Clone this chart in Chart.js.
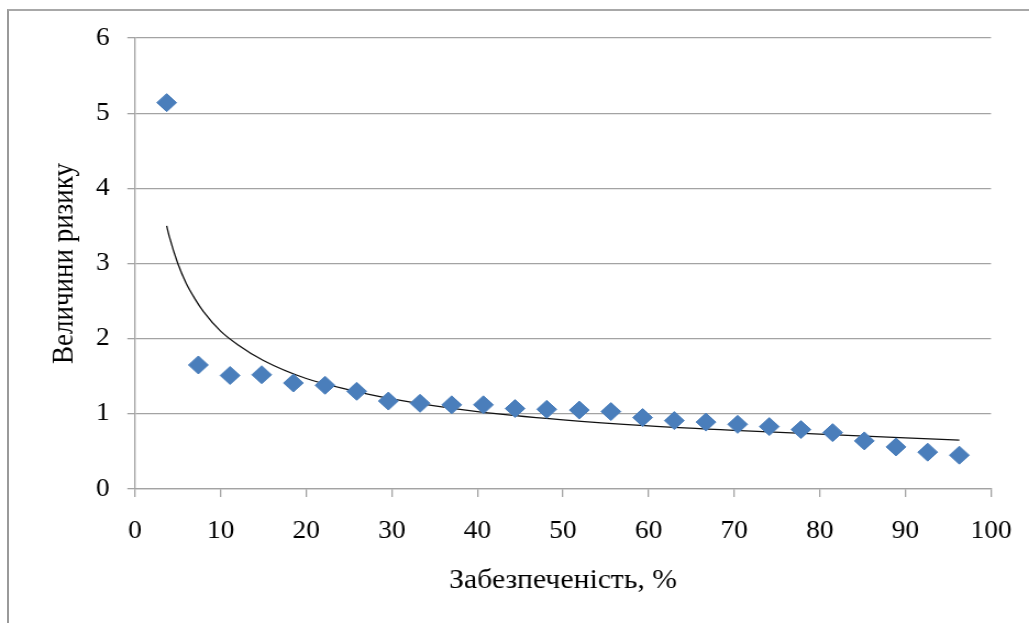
<!DOCTYPE html>
<html>
<head>
<meta charset="utf-8">
<script src="https://cdn.jsdelivr.net/npm/chart.js@4/dist/chart.umd.min.js"></script>
<style>
  html, body { margin: 0; padding: 0; background: #ffffff; }
  #wrap { position: relative; width: 1029px; height: 623px; overflow: hidden; }
  #frame { position: absolute; left: 7px; top: 9px; width: 1100px; height: 700px;
           border-left: 2px solid #9a9a9a; border-top: 2px solid #a8a8a8; }
  canvas { position: absolute; left: 0; top: 0; transform-origin: 0 0; transform: scaleX(1.0994); }
</style>
</head>
<body>
<div id="wrap">
  <div id="frame"></div>
  <canvas id="c" width="936" height="623"></canvas>
</div>
<script>
// Observed points (Забезпеченість, % ; Величини ризику)
const supplyPct = [3.7, 7.4, 11.1, 14.8, 18.5, 22.2, 25.9, 29.6, 33.3, 37.0, 40.7, 44.4, 48.1,
                   51.9, 55.6, 59.3, 63.0, 66.7, 70.4, 74.1, 77.8, 81.5, 85.2, 88.9, 92.6, 96.3];
const riskValues = [5.14, 1.65, 1.51, 1.52, 1.41, 1.38, 1.30, 1.17, 1.14, 1.12, 1.12, 1.07, 1.06,
                    1.05, 1.03, 0.95, 0.91, 0.89, 0.86, 0.83, 0.79, 0.75, 0.64, 0.56, 0.49, 0.45];

// Trend line
const trendX = [3.7, 4, 5, 6, 7, 8, 10, 12, 15, 20, 25, 30, 40, 50, 60, 70, 80, 90, 96.3];
const trendY = [3.50, 3.36, 3.00, 2.73, 2.53, 2.36, 2.10, 1.92, 1.71, 1.47, 1.32, 1.20, 1.03,
                0.92, 0.84, 0.78, 0.73, 0.68, 0.65];

const xTitle = 'Забезпеченість, %';
const yTitle = 'Величини ризику';

const pts = supplyPct.map((x, i) => ({ x: x, y: riskValues[i] }));
const trend = trendX.map((x, i) => ({ x: x, y: trendY[i] }));

const FONT = "'Liberation Serif', 'Times New Roman', serif";
const GRID = '#a3a3a3';

new Chart(document.getElementById('c'), {
  type: 'scatter',
  data: {
    datasets: [
      {
        label: 'risk',
        data: pts,
        pointStyle: 'rectRot',
        pointRadius: 9,
        pointHoverRadius: 9,
        backgroundColor: '#4a7ebb',
        borderColor: '#4a7ebb',
        borderWidth: 1,
        order: 1
      },
      {
        label: 'trend',
        type: 'line',
        data: trend,
        showLine: true,
        borderColor: '#111111',
        borderWidth: 1.3,
        pointRadius: 0,
        fill: false,
        cubicInterpolationMode: 'monotone',
        order: 2
      }
    ]
  },
  options: {
    responsive: false,
    animation: false,
    devicePixelRatio: 1,
    layout: { padding: { top: 38, right: 34.6, left: 0, bottom: 0 } },
    plugins: { legend: { display: false }, tooltip: { enabled: false } },
    scales: {
      x: {
        type: 'linear',
        min: 0, max: 100,
        ticks: { stepSize: 10, color: '#000', font: { family: FONT, size: 25 }, padding: 19, maxRotation: 0 },
        grid: { drawOnChartArea: false, drawTicks: true, tickLength: 8, color: GRID, lineWidth: 1.3 },
        border: { color: GRID, width: 1.3 },
        title: { display: true, text: xTitle, color: '#000', font: { family: FONT, size: 27 }, padding: { top: 0, bottom: 26 } },
        afterFit: (s) => { s.height = 134; s.paddingRight = 0; s.paddingLeft = 0; }
      },
      y: {
        type: 'linear',
        min: 0, max: 6,
        ticks: { stepSize: 1, color: '#000', font: { family: FONT, size: 25 }, padding: 16 },
        grid: { color: GRID, lineWidth: 1.3, tickLength: 7 },
        border: { color: GRID, width: 1.3 },
        title: { display: true, text: yTitle, color: '#000', font: { family: FONT, size: 27 }, padding: { top: 43, bottom: 0 } },
        afterFit: (s) => { s.width = 122.8; s.paddingTop = 0; s.paddingBottom = 0; }
      }
    }
  }
});
</script>
</body>
</html>
